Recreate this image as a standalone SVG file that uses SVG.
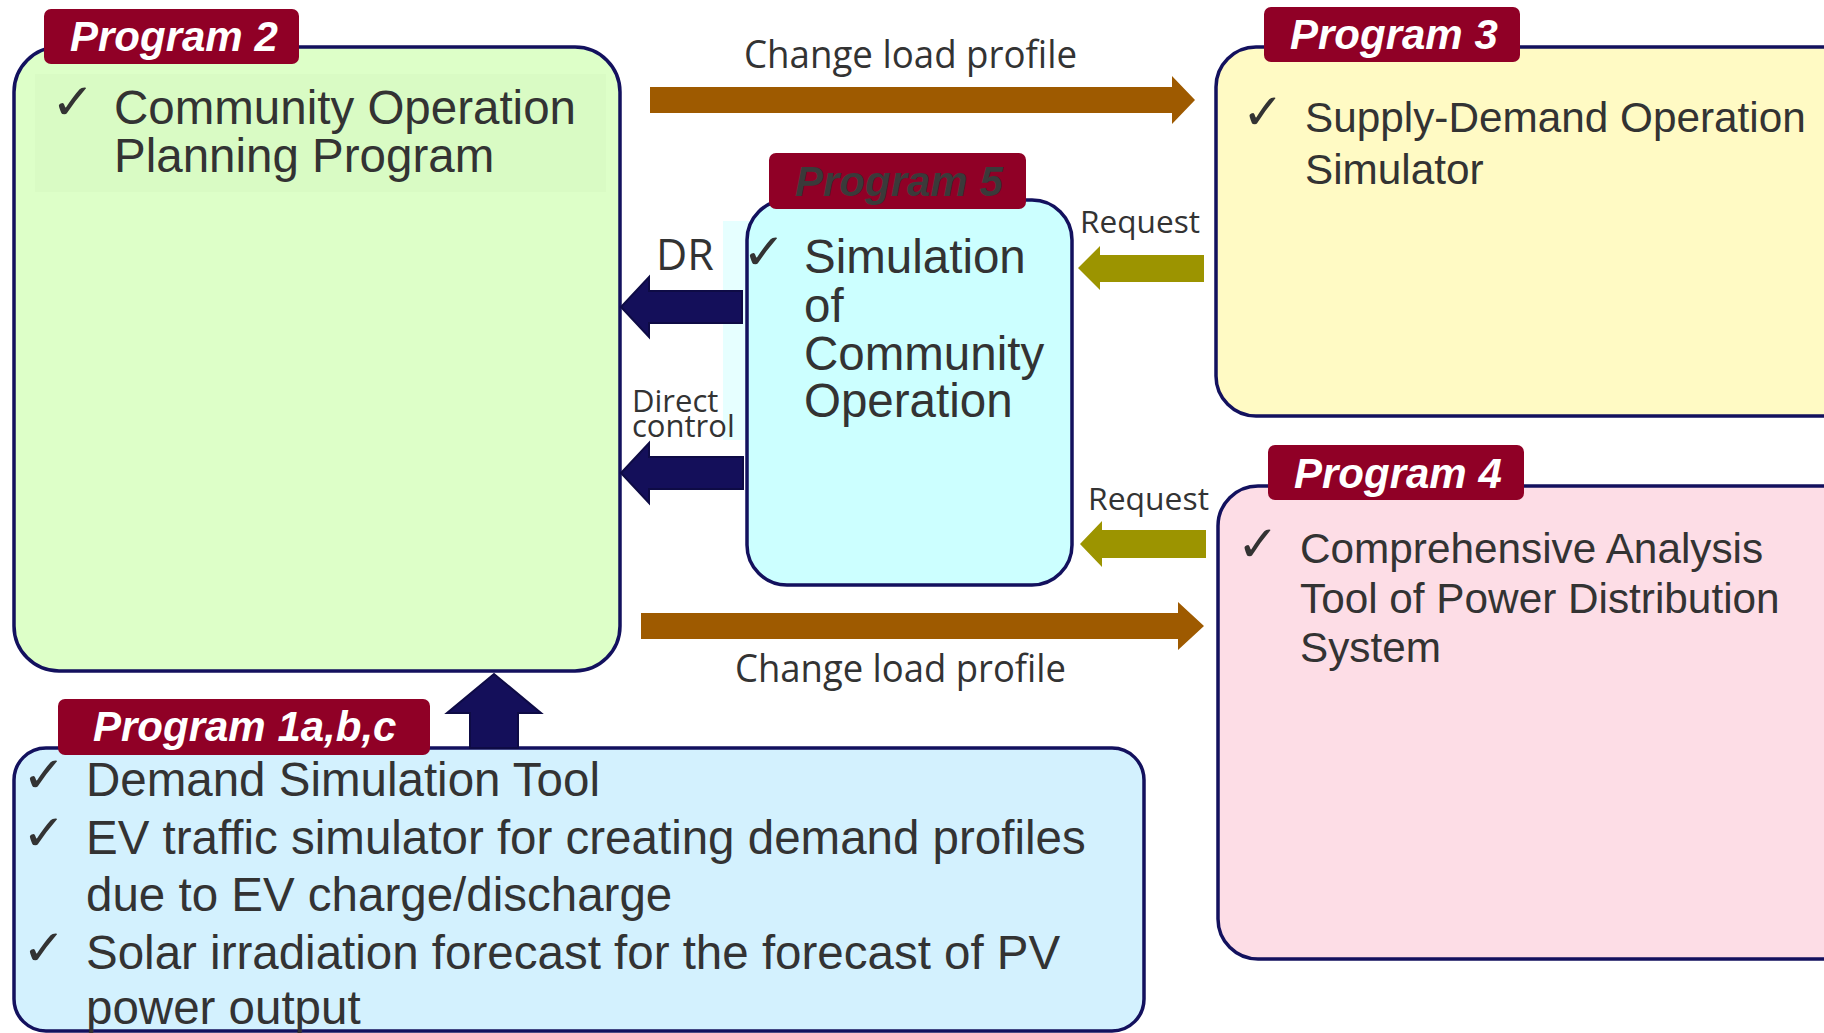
<svg xmlns="http://www.w3.org/2000/svg" width="1824" height="1033" viewBox="0 0 1824 1033">
<style>
.box{stroke:#13115E;stroke-width:3.5}
.tab{fill:#900026}
.tabt{font-family:"Liberation Sans",Arial,sans-serif;font-weight:bold;font-style:italic;font-size:42px;fill:#fff}
.body{font-family:"Liberation Sans",Arial,sans-serif;fill:#333}
.big{font-size:47.5px}
.mid{font-size:42.3px}
.chk{font-family:"DejaVu Sans",sans-serif;fill:#333;font-size:50px}
.lbl{font-family:"Open Sans",sans-serif;fill:#333}
.navy{fill:#140F5A;stroke:#0E0B45;stroke-width:2}
.brown{fill:#9E5A00}
.olive{fill:#9C9400}
</style>
<rect width="1824" height="1033" fill="#fff"/>
<g id="program2">
<rect class="box" x="14" y="47" width="606" height="624" rx="45" fill="#DDFFC8"/>
<rect x="35" y="74" width="571" height="118" fill="#D9FBC4"/>
<rect class="tab" x="44" y="9" width="255" height="55" rx="7"/>
<text class="tabt" x="70" y="51">Program 2</text>
<text class="chk" x="51" y="119" textLength="44" lengthAdjust="spacingAndGlyphs">✓</text>
<text class="body big" x="114" y="124">Community Operation</text>
<text class="body big" x="114" y="172">Planning Program</text>
</g>
<g id="program3">
<rect class="box" x="1216" y="47" width="650" height="369" rx="40" fill="#FFFAC4"/>
<rect class="tab" x="1264" y="7" width="256" height="55" rx="7"/>
<text class="tabt" x="1290" y="49">Program 3</text>
<text class="chk" x="1242" y="129" textLength="42" lengthAdjust="spacingAndGlyphs">✓</text>
<text class="body mid" x="1305" y="132">Supply-Demand Operation</text>
<text class="body mid" x="1305" y="184">Simulator</text>
</g>
<g id="program5">
<rect x="723" y="221" width="40" height="219" fill="#E6FFFF"/>
<rect class="box" x="747" y="200" width="325" height="385" rx="40" fill="#CCFFFF"/>
<rect class="tab" x="769" y="153" width="257" height="56" rx="7"/>
<text class="tabt" x="795" y="196" style="fill:#3A3A3A">Program 5</text>
<text class="chk" x="742" y="269" textLength="44" lengthAdjust="spacingAndGlyphs">✓</text>
<text class="body big" x="804" y="273">Simulation</text>
<text class="body big" x="804" y="322">of</text>
<text class="body big" x="804" y="370">Community</text>
<text class="body big" x="804" y="417">Operation</text>
</g>
<g id="program4">
<rect class="box" x="1218" y="486" width="650" height="473" rx="40" fill="#FDDDE6"/>
<rect class="tab" x="1268" y="445" width="256" height="55" rx="7"/>
<text class="tabt" x="1294" y="488">Program 4</text>
<text class="chk" x="1237" y="561" textLength="42" lengthAdjust="spacingAndGlyphs">✓</text>
<text class="body mid" x="1300" y="563">Comprehensive Analysis</text>
<text class="body mid" x="1300" y="613">Tool of Power Distribution</text>
<text class="body mid" x="1300" y="662">System</text>
</g>
<g id="program1">
<rect class="box" x="14" y="748" width="1130" height="283" rx="32" fill="#D3F1FE"/>
<rect class="tab" x="58" y="699" width="372" height="56" rx="7"/>
<text class="tabt" x="93" y="741">Program 1a,b,c</text>
<text class="chk" x="22" y="792" textLength="44" lengthAdjust="spacingAndGlyphs">✓</text>
<text class="chk" x="22" y="850" textLength="44" lengthAdjust="spacingAndGlyphs">✓</text>
<text class="chk" x="22" y="965" textLength="44" lengthAdjust="spacingAndGlyphs">✓</text>
<text class="body big" x="86" y="796">Demand Simulation Tool</text>
<text class="body big" x="86" y="854">EV traffic simulator for creating demand profiles</text>
<text class="body big" x="86" y="911">due to EV charge/discharge</text>
<text class="body big" x="86" y="969">Solar irradiation forecast for the forecast of PV</text>
<text class="body big" x="86" y="1024">power output</text>
</g>
<g id="connectors">
<polygon class="brown" points="650,87 1172,87 1172,76 1195,100 1172,124 1172,113 650,113"/>
<polygon class="brown" points="641,613 1178,613 1178,602 1204,626 1178,650 1178,639 641,639"/>
<polygon class="olive" points="1204,255 1100,255 1100,246 1078,268 1100,290 1100,282 1204,282"/>
<polygon class="olive" points="1206,530 1102,530 1102,521 1080,544 1102,567 1102,558 1206,558"/>
<polygon class="navy" points="742,291 649,291 649,277 621,307 649,337 649,323 742,323"/>
<polygon class="navy" points="743,457 649,457 649,443 621,473 649,503 649,489 743,489"/>
<polygon class="navy" points="470,748 470,713 447,713 494,674 541,713 518,713 518,748"/>
<text class="lbl" font-size="38" x="744" y="68" textLength="333" lengthAdjust="spacingAndGlyphs">Change load profile</text>
<text class="lbl" font-size="38" x="735" y="682" textLength="331" lengthAdjust="spacingAndGlyphs">Change load profile</text>
<text class="lbl" font-size="31.5" x="1080" y="233" textLength="120" lengthAdjust="spacingAndGlyphs">Request</text>
<text class="lbl" font-size="31.5" x="1088" y="510" textLength="121" lengthAdjust="spacingAndGlyphs">Request</text>
<text class="lbl" font-size="43" x="656" y="270">DR</text>
<text class="lbl" font-size="31" x="632" y="412">Direct</text>
<text class="lbl" font-size="31" x="632" y="437">control</text>
</g>
</svg>
